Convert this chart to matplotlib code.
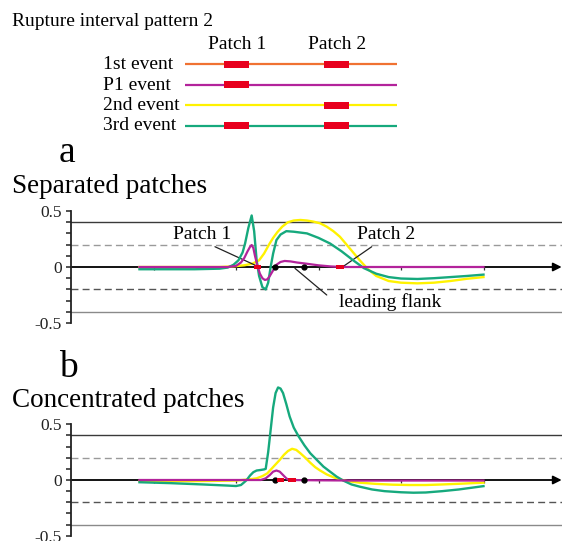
"""
破裂間隔模式 2 - 分離 / 集中 patch 的比較圖
"""
import matplotlib
matplotlib.use('Agg')
import matplotlib.pyplot as plt
from matplotlib.patches import Rectangle
from matplotlib.ticker import FixedLocator

# ---- 資料 ----
event_names = ['1st event', 'P1 event', '2nd event', '3rd event']
event_colors = ['#F07232', '#B3239B', '#FFF200', '#16A97D']
event_patches = [[0, 1], [0], [1], [0, 1]]     # 每個事件破裂的 patch
patch_names = ['Patch 1', 'Patch 2']

# (a) Separated patches
a_green_x = [0.83, 1.5, 1.8, 1.9, 1.97, 2.03, 2.08, 2.11, 2.15, 2.19, 2.22, 2.25, 2.28,
             2.32, 2.36, 2.39, 2.42, 2.45, 2.49, 2.54, 2.61, 2.7, 2.86, 3.0, 3.14, 3.28,
             3.42, 3.55, 3.7, 3.85, 4.0, 4.2, 4.4, 4.6, 4.8, 5.0]
a_green_y = [-0.02, -0.02, -0.015, -0.005, 0.02, 0.06, 0.13, 0.21, 0.35, 0.46, 0.32, 0.06, -0.08,
             -0.18, -0.2, -0.14, 0.0, 0.12, 0.24, 0.29, 0.32, 0.315, 0.30, 0.26, 0.21, 0.14,
             0.06, -0.01, -0.06, -0.09, -0.103, -0.107, -0.1, -0.09, -0.08, -0.068]
a_yellow_x = [0.83, 1.8, 1.95, 2.1, 2.2, 2.28, 2.34, 2.4, 2.45, 2.5, 2.56, 2.63, 2.7, 2.78,
              2.86, 2.94, 3.02, 3.1, 3.18, 3.26, 3.34, 3.42, 3.5, 3.6, 3.7, 3.85, 4.0, 4.2,
              4.4, 4.6, 4.8, 5.0]
a_yellow_y = [0.0, 0.0, 0.005, 0.015, 0.03, 0.06, 0.12, 0.2, 0.26, 0.31, 0.36, 0.4, 0.415, 0.42,
              0.415, 0.405, 0.39, 0.36, 0.32, 0.27, 0.2, 0.13, 0.06, -0.02, -0.08, -0.125, -0.14,
              -0.146, -0.14, -0.125, -0.105, -0.09]
a_magenta_x = [0.83, 1.9, 2.0, 2.06, 2.1, 2.14, 2.17, 2.19, 2.21, 2.23, 2.26, 2.29, 2.32, 2.35,
               2.38, 2.41, 2.45, 2.49, 2.54, 2.59, 2.66, 2.74, 2.85, 3.0, 3.15, 3.3, 5.0]
a_magenta_y = [0.0, 0.0, 0.01, 0.04, 0.08, 0.14, 0.18, 0.196, 0.17, 0.1, 0.01, -0.06, -0.1, -0.116,
               -0.11, -0.08, -0.03, 0.02, 0.045, 0.054, 0.05, 0.04, 0.03, 0.015, 0.005, 0.0, 0.0]
a_patch_pos = [2.26, 3.26]

# (b) Concentrated patches
b_green_x = [0.83, 1.2, 1.6, 1.9, 2.0, 2.06, 2.1, 2.13, 2.17, 2.21, 2.25, 2.3, 2.34, 2.36,
             2.39, 2.42, 2.45, 2.48, 2.51, 2.54, 2.57, 2.61, 2.65, 2.7, 2.76, 2.83, 2.9, 2.98,
             3.06, 3.14, 3.22, 3.3, 3.4, 3.5, 3.65, 3.8, 4.0, 4.15, 4.3, 4.5, 4.7, 4.85, 5.0]
b_green_y = [-0.02, -0.028, -0.04, -0.05, -0.054, -0.045, -0.02, 0.0, 0.04, 0.07, 0.085, 0.09, 0.095, 0.1,
             0.25, 0.45, 0.65, 0.78, 0.83, 0.82, 0.78, 0.68, 0.57, 0.47, 0.39, 0.31, 0.24, 0.18,
             0.12, 0.075, 0.03, -0.005, -0.04, -0.06, -0.085, -0.1, -0.11, -0.114, -0.112, -0.1,
             -0.085, -0.07, -0.055]
b_yellow_x = [0.83, 1.5, 2.0, 2.15, 2.25, 2.32, 2.38, 2.43, 2.48, 2.53, 2.58, 2.63, 2.68, 2.73,
              2.78, 2.84, 2.9, 2.96, 3.02, 3.1, 3.18, 3.26, 3.35, 3.5, 3.7, 3.9, 4.1, 4.3, 4.5,
              4.7, 5.0]
b_yellow_y = [-0.01, -0.01, -0.005, 0.005, 0.015, 0.035, 0.06, 0.1, 0.14, 0.18, 0.225, 0.26, 0.28, 0.27,
              0.24, 0.2, 0.155, 0.115, 0.085, 0.05, 0.025, 0.005, -0.01, -0.024, -0.035, -0.042,
              -0.045, -0.045, -0.04, -0.034, -0.024]
b_magenta_x = [0.83, 2.3, 2.36, 2.41, 2.45, 2.49, 2.53, 2.57, 2.61, 2.64, 3.0, 3.5, 5.0]
b_magenta_y = [0.0, 0.0, 0.015, 0.045, 0.075, 0.085, 0.075, 0.045, 0.015, 0.0, -0.003, -0.005, -0.005]
b_patch_pos = [2.54, 2.68]

flank_dots = [2.47, 2.83]
x_ticks = [1, 2, 3, 4, 5]
y_ticks = [-0.5, 0, 0.5]
y_ticklabels = ['-0.5', '0', '0.5']
y_minor = [-0.4, -0.3, -0.2, -0.1, 0.1, 0.2, 0.3, 0.4]

# ---- 版面 ----
W, H = 562, 541
X_UNIT = 82.5          # 每一 x 單位的像素數
X_MAX = (W - 71) / X_UNIT

plt.rcParams['font.family'] = ['Liberation Serif', 'DejaVu Serif']
plt.rcParams['axes.unicode_minus'] = False

fig = plt.figure(figsize=(W / 100, H / 100), dpi=100)


def setup_panel(ax, ymin, ymax):
    """畫 y 軸、參考線、x 軸箭頭"""
    ax.set_xlim(0, X_MAX)
    ax.set_ylim(ymin, ymax)
    ax.patch.set_alpha(0)
    for s in ['top', 'right', 'bottom']:
        ax.spines[s].set_visible(False)
    ax.spines['left'].set_bounds(-0.5, 0.5)
    ax.spines['left'].set_linewidth(1.3)
    ax.spines['left'].set_color('#222222')
    ax.set_xticks([])
    ax.set_yticks(y_ticks)
    ax.set_yticklabels(y_ticklabels, fontsize=12.5, color='#222222')
    ax.yaxis.set_minor_locator(FixedLocator(y_minor))
    ax.tick_params(axis='y', which='both', length=3.5, width=1.1, color='#222222', pad=3)

    # 參考線
    ax.axhline(0.4, color='#3a3a3a', lw=1.0, zorder=1)
    ax.axhline(-0.4, color='#8a8a8a', lw=1.0, zorder=1)
    ax.axhline(0.2, color='#9a9a9a', lw=1.0, dashes=(5, 3), zorder=1)
    ax.axhline(-0.2, color='#555555', lw=1.0, dashes=(5, 3), zorder=1)

    # x 軸（箭頭）
    ax.annotate('', xy=(X_MAX - 0.004, 0), xytext=(0, 0),
                arrowprops=dict(arrowstyle='-|>,head_length=0.5,head_width=0.25',
                                color='black', lw=1.3, shrinkA=0, shrinkB=0), zorder=2)
    ax.vlines(x_ticks, -0.03, 0, color='#333333', lw=0.9, zorder=2)


def draw_curves(ax, yx, yy, gx, gy, mx, my, patch_pos):
    ax.plot(yx, yy, color=event_colors[2], lw=1.7, zorder=3)
    ax.plot(gx, gy, color=event_colors[3], lw=1.7, zorder=4)
    ax.plot(mx, my, color=event_colors[1], lw=1.6, zorder=5)
    ax.plot(flank_dots, [0] * len(flank_dots), 'o', color='black', ms=3.5, zorder=6)
    for c in patch_pos:
        ax.add_patch(Rectangle((c - 0.047, -0.022), 0.094, 0.044,
                               facecolor='#E8001E', edgecolor='none', zorder=7))


# (a) 分離 patch
ax_a = fig.add_axes([71 / W, 1 - 328.6 / H, (W - 71) / W, 123.2 / H])
setup_panel(ax_a, -0.55, 0.55)
draw_curves(ax_a, a_yellow_x, a_yellow_y, a_green_x, a_green_y,
            a_magenta_x, a_magenta_y, a_patch_pos)

line_kw = dict(arrowprops=dict(arrowstyle='-', color='#222222', lw=0.9, shrinkA=0, shrinkB=0))
ax_a.annotate('', xy=(a_patch_pos[0] - 0.01, 0.01), xytext=(1.745, 0.181), **line_kw)
ax_a.text(1.59, 0.286, patch_names[0], fontsize=14, ha='center', va='center')
ax_a.annotate('', xy=(a_patch_pos[1] + 0.04, 0.005), xytext=(3.645, 0.181), **line_kw)
ax_a.text(3.82, 0.286, patch_names[1], fontsize=14, ha='center', va='center')
ax_a.annotate('', xy=(2.715, -0.012), xytext=(3.10, -0.25), **line_kw)
ax_a.text(3.87, -0.31, 'leading flank', fontsize=14, ha='center', va='center')

# (b) 集中 patch
ax_b = fig.add_axes([71 / W, 0, (W - 71) / W, (H - 379) / H])
setup_panel(ax_b, -(H - 480) / 111.5, (480 - 379) / 111.5)
draw_curves(ax_b, b_yellow_x, b_yellow_y, b_green_x, b_green_y,
            b_magenta_x, b_magenta_y, b_patch_pos)

# ---- 上方示意圖與標題（像素座標）----
ax_top = fig.add_axes([0, 0, 1, 1])
ax_top.set_xlim(0, W)
ax_top.set_ylim(H, 0)
ax_top.axis('off')
ax_top.patch.set_alpha(0)

ax_top.text(12, 26, 'Rupture interval pattern 2', fontsize=14, va='baseline', ha='left')
patch_x = [236.7, 336.7]
for name, px in zip(patch_names, patch_x):
    ax_top.text(px, 49.3, name, fontsize=14, va='baseline', ha='center')

for i, (name, color, hits) in enumerate(zip(event_names, event_colors, event_patches)):
    row_y = 64.3 + i * 20.45
    ax_top.text(103, row_y + 4.8, name, fontsize=14, va='baseline', ha='left')
    ax_top.plot([185, 396.7], [row_y, row_y], color=color, lw=1.6, solid_capstyle='butt')
    for k in hits:
        ax_top.add_patch(Rectangle((patch_x[k] - 12.6, row_y - 3.7), 25.2, 7.4,
                                   facecolor='#E8001E', edgecolor='none', zorder=3))

ax_top.text(59, 162, 'a', fontsize=27, va='baseline', ha='left')
ax_top.text(12, 193, 'Separated patches', fontsize=19.5, va='baseline', ha='left')
ax_top.text(59, 377, 'b', fontsize=27, va='baseline', ha='left')
ax_top.text(12, 406.7, 'Concentrated patches', fontsize=19.5, va='baseline', ha='left')

plt.savefig('out.png', dpi=100)
plt.close()
